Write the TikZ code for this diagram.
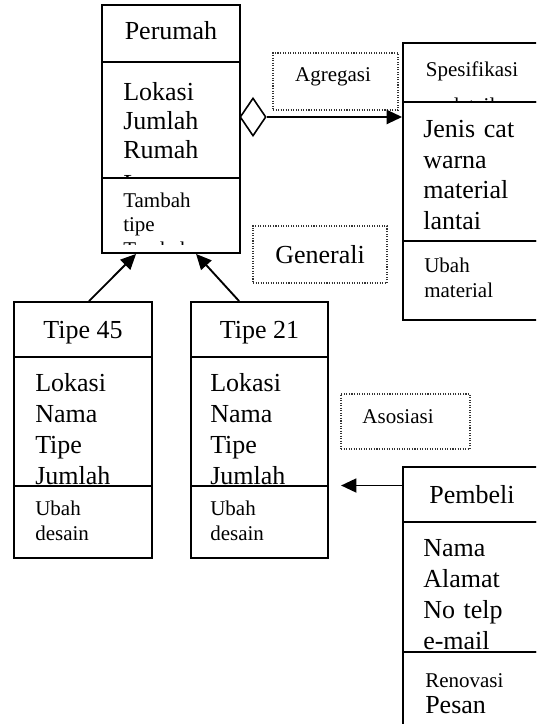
\documentclass[tikz,border=0pt]{standalone}
\usepackage{fontspec}
\setmainfont{Liberation Serif}
\usetikzlibrary{arrows.meta,fit,shapes.geometric,calc}

\tikzset{
  compart/.style={draw, line width=1.4pt, inner sep=0pt},
  notebox/.style={draw=black!80, line width=0.8pt, dash pattern=on 0.8pt off 1.1pt, inner sep=0pt},
  bigfont/.style={font=\fontsize{19.5pt}{#1}\selectfont},
  bigfont/.default=23.25pt,
  smallfont/.style={font=\fontsize{15.75pt}{#1}\selectfont},
  smallfont/.default=18.75pt,
  ltext/.style={anchor=base west, inner sep=0pt, text width=110pt, align=left},
  ctext/.style={anchor=base, inner sep=0pt},
  conn/.style={line width=1.4pt},
  tip/.style={-{Triangle[length=11.5pt,width=10.5pt]}},
}

\begin{document}
\begin{tikzpicture}[x=0.75pt, y=-0.75pt]
\useasboundingbox (0,0) rectangle (536,724);
\fill[white] (0,0) rectangle (536,724);
\clip (0,0) rectangle (536,724);

% ---------- Perumah ----------
\begin{scope}\clip (102,5) rectangle (240,62);
  \node[ctext, bigfont] (perumahName) at (171,40) {Perumah};
\end{scope}
\begin{scope}\clip (102,62) rectangle (240,178);
  \node[ltext, bigfont=21.75pt] (perumahAttr) at (123,100) {Lokasi\\Jumlah\\Rumah};
  \node[anchor=base west, inner sep=0pt, bigfont] (perumahAttr4) at (123,192) {Luas};
\end{scope}
\begin{scope}\clip (102,178) rectangle (240,244);
  \node[ltext, smallfont=18pt] (perumahOps) at (123,207) {Tambah\\tipe};
  \node[anchor=base west, inner sep=0pt, smallfont] (perumahOps3) at (123,256) {Tambah};
\end{scope}
\node[compart, fit={(102,5) (240,62)}] (ph) {};
\node[compart, fit={(102,62) (240,178)}] (pa) {};
\node[compart, fit={(102,178) (240,253)}] (po) {};

% ---------- Spesifikasi ----------
\begin{scope}\clip (403,43) rectangle (541,102);
  \node[ctext, smallfont] (specName) at (472,77) {Spesifikasi};
  \node[ctext, smallfont] (specName2) at (472,113) {detail};
\end{scope}
\begin{scope}\clip (403,102) rectangle (541,241);
  \node[ltext, bigfont] (specAttr) at (423,137) {Jenis cat\\warna\\material\\lantai};
\end{scope}
\begin{scope}\clip (403,241) rectangle (541,320);
  \node[ltext, smallfont] (specOps) at (424,272) {Ubah\\material};
\end{scope}
\node[compart, fit={(403,43) (541,102)}] (sh) {};
\node[compart, fit={(403,102) (541,241)}] (sa) {};
\node[compart, fit={(403,241) (541,320)}] (so) {};

% ---------- Tipe 45 ----------
\node[ctext, bigfont] (t45Name) at (83,338) {Tipe 45};
\begin{scope}\clip (14,357) rectangle (152,486);
  \node[ltext, bigfont] (t45Attr) at (35,391) {Lokasi\\Nama\\Tipe\\Jumlah};
\end{scope}
\node[ltext, smallfont] (t45Ops) at (35,515) {Ubah\\desain};
\node[compart, fit={(14,302) (152,357)}] (t45h) {};
\node[compart, fit={(14,357) (152,486)}] (t45a) {};
\node[compart, fit={(14,486) (152,558)}] (t45o) {};

% ---------- Tipe 21 ----------
\node[ctext, bigfont] (t21Name) at (259.5,338) {Tipe 21};
\begin{scope}\clip (191,357) rectangle (328,486);
  \node[ltext, bigfont] (t21Attr) at (210,391) {Lokasi\\Nama\\Tipe\\Jumlah};
\end{scope}
\node[ltext, smallfont] (t21Ops) at (210,515) {Ubah\\desain};
\node[compart, fit={(191,302) (328,357)}] (t21h) {};
\node[compart, fit={(191,357) (328,486)}] (t21a) {};
\node[compart, fit={(191,486) (328,558)}] (t21o) {};

% ---------- Pembeli ----------
\node[ctext, bigfont] (pbName) at (472,503) {Pembeli};
\begin{scope}\clip (403,522) rectangle (541,652);
  \node[ltext, bigfont] (pbAttr) at (423,556) {Nama\\Alamat\\No telp\\e-mail};
\end{scope}
\node[anchor=base west, inner sep=0pt, smallfont] (pbOps1) at (425,687) {Renovasi};
\node[anchor=base west, inner sep=0pt, bigfont] (pbOps2) at (425,713) {Pesan};
\node[compart, fit={(403,467) (541,522)}] (pbh) {};
\node[compart, fit={(403,522) (541,652)}] (pba) {};
\node[compart, fit={(403,652) (541,760)}] (pbo) {};

% ---------- relationship notes ----------
\node[notebox, fit={(273,53) (398,110)}] (aggNote) {};
\node[ctext, smallfont] (aggText) at (333,82) {Agregasi};
\node[notebox, fit={(253,226) (387,283)}] (genNote) {};
\node[ctext, bigfont] (genText) at (320,263) {Generali};
\node[notebox, fit={(341,394) (470,449)}] (asoNote) {};
\node[ctext, smallfont] (asoText) at (398,423) {Asosiasi};

% ---------- aggregation ----------
\node[draw, diamond, line width=1.2pt, inner sep=0pt, minimum width=19.5pt, minimum height=28.5pt] (dia) at (253,117) {};
\draw[conn, tip] (dia.east) -- (dia.east -| sa.west);

% ---------- generalization ----------
\coordinate (g1s) at ($(t45h.north west)+(76,0)$);
\coordinate (g1e) at ($(po.south west)+(35,0)$);
\coordinate (g2s) at ($(t21h.north west)+(49,0)$);
\coordinate (g2e) at ($(po.south west)+(95,0)$);
\draw[conn, tip] (g1s) -- (g1e);
\draw[conn, tip] (g2s) -- (g2e);

% ---------- association ----------
\coordinate (asoStart) at ($(pbh.west)+(0,-9)$);
\coordinate (asoEnd) at ($(asoStart)+(-61,0)$);
\draw[conn, tip] (asoStart) -- (asoEnd);
\end{tikzpicture}
\end{document}
